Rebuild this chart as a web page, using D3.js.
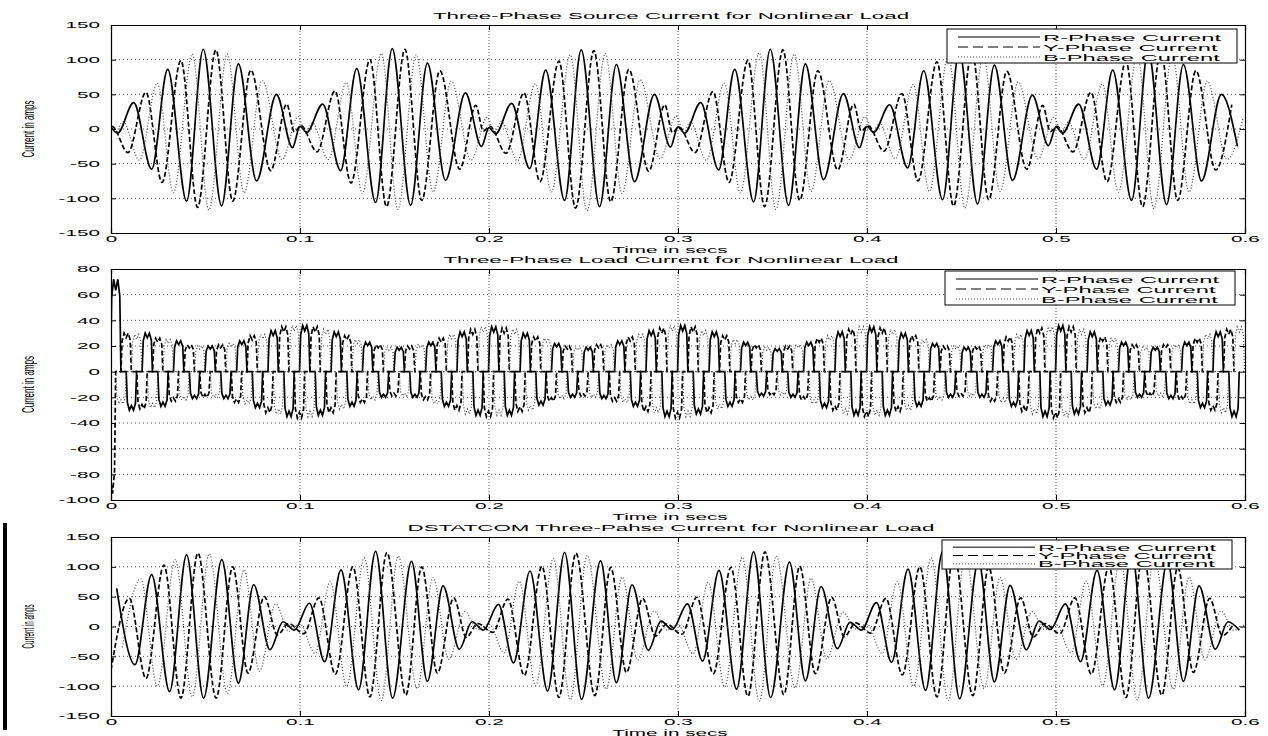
<!DOCTYPE html>
<html>
<head>
<meta charset="utf-8">
<script src="https://cdn.jsdelivr.net/npm/d3@7"></script>
<style>
body { margin: 0; background: #fff; }
text { font-family: "Liberation Sans", Arial, sans-serif; fill: #000; }
</style>
</head>
<body>
<div id="chart"></div>
<script>
// Data

var timeTicks = [0, 0.1, 0.2, 0.3, 0.4, 0.5, 0.6];
var ampTicks = [-150, -100, -50, 0, 50, 100, 150];
var loadTicks = [-100, -80, -60, -40, -20, 0, 20, 40, 60, 80];
var legendNames = ["R-Phase Current", "Y-Phase Current", "B-Phase Current"];

// source current: instants of the R-phase peaks/troughs (s), incl. the wiggle at each node
var tSrc = [0.000,0.0035,0.012,0.0215,0.030,0.040,0.0488,0.0585,0.0674,0.077,0.0875,0.096,
	0.100,0.1035,0.112,0.1215,0.130,0.140,0.1488,0.1585,0.1674,0.177,0.1875,0.196,
	0.200,0.2035,0.212,0.2215,0.230,0.240,0.2488,0.2585,0.2674,0.277,0.2875,0.296,
	0.300,0.3035,0.312,0.3215,0.330,0.340,0.3488,0.3585,0.3674,0.377,0.3875,0.396,
	0.400,0.4035,0.412,0.4215,0.430,0.440,0.4488,0.4585,0.4674,0.477,0.4875,0.496,
	0.500,0.5035,0.512,0.5215,0.530,0.540,0.5488,0.5585,0.5674,0.577,0.5875,0.596];
// peak values (A); Y read 3 ms before, B 3 ms after each R instant
var srcR = [3,-6,38,-58,86,-104,115,-111,94,-75,50,-27,
	4,-5,36,-60,87,-106,116,-110,95,-74,52,-25,
	2,-7,37,-57,85,-103,114,-112,93,-76,50,-26,
	3,-6,38,-59,86,-105,115,-110,94,-73,51,-27,
	4,-5,35,-56,84,-102,112,-108,92,-74,49,-24,
	3,-6,36,-58,85,-103,113,-109,93,-75,50,-25];
var srcY = [-3,4,-34,53,-77,99,-113,114,-104,85,-60,36,
	-4,5,-33,55,-78,100,-112,115,-103,84,-58,34,
	-3,4,-35,52,-76,98,-114,113,-105,86,-61,35,
	-5,3,-34,54,-77,99,-112,114,-103,84,-59,36,
	-3,5,-32,51,-75,97,-111,112,-102,83,-58,34,
	-4,4,-33,53,-76,98,-112,113,-103,84,-59,35];
var srcB = [-5,10,-45,66,-92,108,-117,108,-92,70,-44,18,
	-6,9,-44,67,-93,109,-116,107,-91,69,-45,17,
	-4,11,-46,65,-91,107,-118,109,-93,71,-43,19,
	-5,10,-45,66,-92,110,-116,108,-90,70,-44,18,
	-6,9,-43,64,-90,106,-114,106,-90,68,-43,17,
	-5,10,-44,65,-91,107,-115,107,-91,69,-44,16];

// load current: centres of the R-phase conduction pulses (s)
var tLoad = [0.0025,0.0108,0.0192,0.0275,0.0358,0.0442,0.0525,0.0608,0.0692,0.0775,0.0858,0.0942,
	0.1025,0.1108,0.1192,0.1275,0.1358,0.1442,0.1525,0.1608,0.1692,0.1775,0.1858,0.1942,
	0.2025,0.2108,0.2192,0.2275,0.2358,0.2442,0.2525,0.2608,0.2692,0.2775,0.2858,0.2942,
	0.3025,0.3108,0.3192,0.3275,0.3358,0.3442,0.3525,0.3608,0.3692,0.3775,0.3858,0.3942,
	0.4025,0.4108,0.4192,0.4275,0.4358,0.4442,0.4525,0.4608,0.4692,0.4775,0.4858,0.4942,
	0.5025,0.5108,0.5192,0.5275,0.5358,0.5442,0.5525,0.5608,0.5692,0.5775,0.5858,0.5942];
var loadR = [72,-30,30,-27,24,-21,20,-21,24,-28,32,-35,
	36,-34,31,-27,23,-20,19,-20,23,-27,31,-34,
	35,-34,30,-26,22,-20,19,-21,24,-27,32,-35,
	36,-33,31,-27,23,-19,18,-20,23,-28,31,-34,
	35,-34,30,-27,22,-20,19,-20,24,-27,32,-35,
	36,-33,31,-26,23,-20,19,-21,23,-28,31,-35];
var loadY = [-95,30,-29,26,-23,21,-20,21,-24,28,-32,35,
	-36,35,-32,28,-24,21,-19,20,-22,26,-30,33,
	-35,34,-31,27,-23,20,-19,21,-23,27,-31,34,
	-36,35,-32,28,-24,21,-18,20,-22,26,-30,33,
	-35,34,-31,28,-23,20,-19,20,-23,27,-31,34,
	-36,35,-32,27,-24,21,-19,21,-22,26,-30,33];
var loadB = [-25,29,-28,25,-22,20,-20,22,-25,29,-33,36,
	-35,33,-29,25,-22,19,-19,21,-25,29,-33,35,
	-34,33,-30,26,-21,19,-20,21,-24,29,-32,36,
	-35,32,-29,25,-22,19,-18,21,-25,28,-33,35,
	-34,33,-30,25,-22,20,-19,21,-24,29,-33,35,
	-35,33,-29,26,-22,19,-19,21,-25,29,-32,35];

// DSTATCOM current: instants of the R-phase peaks/troughs (s)
var tDst = [0.003,0.0127,0.0215,0.031,0.040,0.049,0.0586,0.0674,0.0755,0.0841,0.091,0.097,
	0.105,0.113,0.1217,0.131,0.140,0.149,0.159,0.1674,0.1757,0.1843,0.191,0.197,
	0.205,0.213,0.2217,0.231,0.240,0.249,0.259,0.2674,0.2757,0.2843,0.291,0.297,
	0.305,0.313,0.3217,0.331,0.340,0.349,0.359,0.3674,0.3757,0.3843,0.391,0.397,
	0.405,0.413,0.4217,0.431,0.440,0.449,0.459,0.4674,0.4757,0.4843,0.491,0.497,
	0.505,0.513,0.5217,0.531,0.540,0.549,0.559,0.5674,0.5757,0.5843,0.591,0.597];
var dstR = [64,-64,87,-109,120,-120,112,-95,70,-39,8,-6,
	39,-59,95,-106,126,-120,109,-92,68,-38,8,-6,
	37,-61,93,-108,124,-122,110,-94,70,-40,9,-5,
	38,-58,94,-105,125,-119,108,-91,67,-37,7,-6,
	40,-60,96,-107,126,-121,110,-93,69,-39,9,-5,
	38,-59,94,-106,124,-120,109,-92,68,-38,8,-6];
var dstY = [-73,47,-87,103,-120,123,-120,100,-78,50,-14,5,
	-12,48,-80,100,-118,124,-115,100,-78,48,-18,5,
	-10,46,-82,101,-119,123,-116,99,-77,47,-16,4,
	-13,49,-79,99,-117,125,-114,101,-79,49,-17,6,
	-11,47,-81,100,-118,124,-116,100,-78,48,-18,5,
	-12,48,-80,101,-119,123,-115,99,-77,47,-15,4];
var dstB = [-35,80,-100,112,-118,122,-112,95,-75,38,-8,4,
	-45,75,-100,115,-124,118,-104,82,-55,25,-5,4,
	-44,76,-99,114,-123,119,-105,83,-56,26,-6,3,
	-46,74,-101,116,-125,118,-103,81,-54,24,-4,4,
	-45,75,-100,115,-124,120,-104,82,-55,25,-5,3,
	-44,76,-99,114,-123,118,-105,83,-56,26,-6,4];

// Globals

var width = 1268;
var height = 736;
var svg = d3.select("#chart")
	.append("svg")
	.attr("width", width)
	.attr("height", height);

var plotL = 111, plotR = 1245;
var phaseLag = [0, -0.003, 0.003];     // Y and B extremes sit either side of R
var pulseW = 0.0055;                   // 120 degree conduction at 60 Hz
var styles = [
	{dash: null, w: 1.7, c: "#000"},
	{dash: "5,2.5", w: 1.7, c: "#000"},
	{dash: "1,2", w: 1.2, c: "#444"}
];

var x = d3.scaleLinear().domain([0, 0.6]).range([plotL, plotR]);

// MATLAB export is stretched sideways, so text is too
function Txt(g, px, py, str, size, sx, anchor, rot) {
	return g.append("text")
		.attr("transform", "translate(" + px + "," + py + ") scale(" + sx + ",1)" + (rot ? " rotate(-90)" : ""))
		.attr("text-anchor", anchor)
		.style("font-size", size + "px")
		.text(str);
}

function SinePoints(t, v, lag) {
	return t.map(function(d, i) { return [d + lag, v[i]]; });
}

function PulsePoints(t, v, lag) {
	var pts = [];
	t.forEach(function(d, i) {
		var c = d + lag, a = v[i], h = pulseW / 2;
		pts.push([c - h, 0], [c - h + 0.0006, 0.8 * a], [c - 0.0011, a], [c, 0.88 * a],
			[c + 0.0011, a], [c + h - 0.0006, 0.82 * a], [c + h, 0]);
	});
	return pts;
}

function DrawPanel(p, idx) {
	var y = d3.scaleLinear().domain(p.domain).range([p.bottom, p.top]);
	var g = svg.append("g");

	// grid
	g.selectAll(".hg").data(p.ticks.slice(1, -1)).enter().append("line")
		.attr("x1", plotL).attr("x2", plotR)
		.attr("y1", function(d) { return y(d); }).attr("y2", function(d) { return y(d); })
		.attr("stroke", "#000").attr("stroke-width", 1).attr("stroke-dasharray", "1,3").attr("opacity", 0.7);
	g.selectAll(".vg").data(timeTicks.slice(1, -1)).enter().append("line")
		.attr("y1", p.top).attr("y2", p.bottom)
		.attr("x1", function(d) { return x(d); }).attr("x2", function(d) { return x(d); })
		.attr("stroke", "#000").attr("stroke-width", 1).attr("stroke-dasharray", "1,2").attr("opacity", 0.7);

	svg.append("clipPath").attr("id", "clip" + idx)
		.append("rect").attr("x", plotL).attr("y", p.top)
		.attr("width", plotR - plotL).attr("height", p.bottom - p.top);

	var line = d3.line()
		.x(function(d) { return x(d[0]); })
		.y(function(d) { return y(d[1]); })
		.curve(p.pulse ? d3.curveLinear : d3.curveMonotoneX);

	var lines = g.append("g").attr("clip-path", "url(#clip" + idx + ")");
	p.series.forEach(function(s, i) {
		var pts = p.pulse ? PulsePoints(p.t, s, phaseLag[i] * 0.93) : SinePoints(p.t, s, phaseLag[i]);
		lines.append("path")
			.attr("d", line(pts))
			.attr("fill", "none")
			.attr("stroke", styles[i].c)
			.attr("stroke-width", styles[i].w)
			.attr("stroke-dasharray", styles[i].dash);
	});

	// axes, MATLAB style: box with inward ticks
	g.append("g").attr("transform", "translate(0," + p.bottom + ")")
		.call(d3.axisBottom(x).tickValues(timeTicks).tickSize(-5).tickPadding(3).tickFormat(function(d) { return String(d); }));
	g.append("g").attr("transform", "translate(0," + p.top + ")")
		.call(d3.axisTop(x).tickValues(timeTicks).tickSize(-5).tickFormat(""));
	g.append("g").attr("transform", "translate(" + plotL + ",0)")
		.call(d3.axisLeft(y).tickValues(p.ticks).tickSize(-5).tickPadding(11).tickFormat(function(d) { return String(d); }));
	g.append("g").attr("transform", "translate(" + plotR + ",0)")
		.call(d3.axisRight(y).tickValues(p.ticks).tickSize(-5).tickFormat(""));
	g.selectAll(".domain").attr("stroke", "#000").attr("stroke-width", 1.2);
	g.selectAll(".tick line").attr("stroke", "#000");
	g.selectAll(".tick text").style("font-family", "Liberation Sans, Arial, sans-serif")
		.style("font-size", "9px").attr("fill", "#000");
	g.selectAll(".tick text").each(function() {
		var t = d3.select(this);
		var tx = +t.attr("x") || 0;
		t.attr("x", tx / 2.3).attr("transform", "scale(2.3,1)");
	});

	// labels
	Txt(g, (plotL + plotR) / 2 - 7, p.top - 6, p.title, 9.5, 2.35, "middle");
	Txt(g, (plotL + plotR) / 2 - 8, p.bottom + 19.5, "Time in secs", 9, 2.3, "middle");
	Txt(g, 34, (p.top + p.bottom) / 2, "Current in amps", 8, 2.0, "middle", true)
		.attr("textLength", p.labLen).attr("lengthAdjust", "spacingAndGlyphs");

	// legend
	var lg = g.append("g").attr("transform", "translate(" + p.leg[0] + "," + p.leg[1] + ")");
	lg.append("rect").attr("width", 290).attr("height", p.leg[2])
		.attr("fill", "#fff").attr("stroke", "#000").attr("stroke-width", 1);
	var rowH = (p.leg[2] - 4) / 3;
	legendNames.forEach(function(n, i) {
		var ry = 3 + rowH * (i + 0.5);
		lg.append("line").attr("x1", 11).attr("x2", 93).attr("y1", ry).attr("y2", ry)
			.attr("stroke", styles[i].c).attr("stroke-width", 1)
			.attr("stroke-dasharray", i == 1 ? "10,5" : styles[i].dash);
		Txt(lg, 96, ry + 3.5, n, 9.5, 2.5, "start");
	});
}

// Main
var panels = [
	{title: "Three-Phase Source Current for Nonlinear Load", top: 25, bottom: 233,
		domain: [-150, 150], ticks: ampTicks, t: tSrc, series: [srcR, srcY, srcB],
		pulse: false, labLen: 57, leg: [947, 29, 34]},
	{title: "Three-Phase Load Current for Nonlinear Load", top: 269, bottom: 500,
		domain: [-100, 80], ticks: loadTicks, t: tLoad, series: [loadR, loadY, loadB],
		pulse: true, labLen: 57, leg: [945, 271, 34]},
	{title: "DSTATCOM Three-Pahse Current for Nonlinear Load", top: 537, bottom: 716,
		domain: [-150, 150], ticks: ampTicks, t: tDst, series: [dstR, dstY, dstB],
		pulse: false, labLen: 44, leg: [942, 540, 29]}
];

panels.forEach(DrawPanel);

// dark bar along the left edge of the lower panel
svg.append("rect").attr("x", 3).attr("y", 523).attr("width", 4).attr("height", 207).attr("fill", "#000");
</script>
</body>
</html>
